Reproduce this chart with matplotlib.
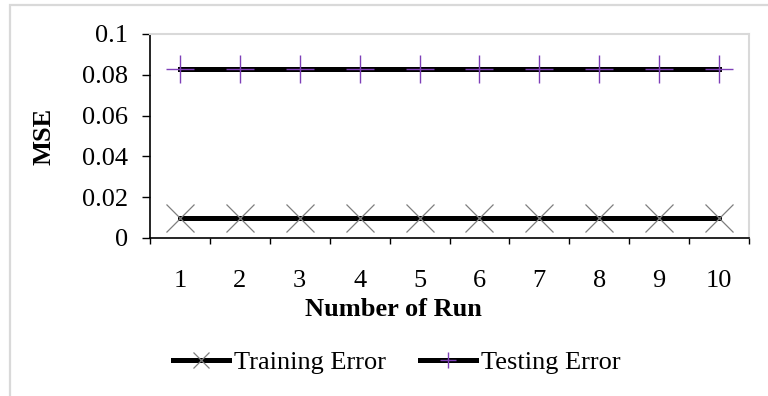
import matplotlib
matplotlib.use("Agg")
import matplotlib.pyplot as plt
from matplotlib.patches import Rectangle
from matplotlib.ticker import FixedLocator, FormatStrFormatter

runs = [1, 2, 3, 4, 5, 6, 7, 8, 9, 10]
training_error = [0.01, 0.01, 0.01, 0.01, 0.01, 0.01, 0.01, 0.01, 0.01, 0.01]
testing_error = [0.083, 0.083, 0.083, 0.083, 0.083, 0.083, 0.083, 0.083, 0.083, 0.083]
y_ticks = [0, 0.02, 0.04, 0.06, 0.08, 0.1]

plt.rcParams['font.family'] = ['Liberation Serif', 'DejaVu Serif']
fs = 19

W, H = 768, 396
fig = plt.figure(figsize=(W / 100, H / 100), dpi=100)
# outer chart border (only left/top visible in the crop)
fig.patches.append(Rectangle((10 / W, -0.1), 1.2, 1 - 5 / H + 0.1, transform=fig.transFigure,
                             fill=False, edgecolor='#D9D9D9', linewidth=1.6))

ax = fig.add_axes([150 / W, 1 - 238 / H, (749 - 150) / W, (238 - 34) / H])

ax.plot(runs, training_error, color='black', linewidth=3.6, marker='x',
        markersize=20, markeredgecolor='#7F7F7F', markeredgewidth=0.9,
        label='Training Error')
ax.plot(runs, testing_error, color='black', linewidth=3.6, marker='+',
        markersize=20, markeredgecolor='#7E3FB8', markeredgewidth=1.0,
        label='Testing Error')

ax.set_xlim(0.5, 10.5)
ax.set_ylim(0, 0.1)
ax.xaxis.set_major_locator(FixedLocator([r + 0.5 for r in [0] + runs]))
ax.xaxis.set_major_formatter(plt.NullFormatter())
ax.xaxis.set_minor_locator(FixedLocator(runs))
ax.set_xticklabels([str(r) for r in runs], minor=True)
ax.tick_params(axis='x', which='major', length=4.5, width=1, direction='out')
ax.tick_params(axis='x', which='minor', length=0, pad=23, labelsize=fs)
ax.set_yticks(y_ticks)
ax.yaxis.set_major_formatter(FormatStrFormatter('%g'))
ax.tick_params(axis='y', length=6, width=1, direction='out', pad=10, labelsize=fs)

for side in ['top', 'right']:
    ax.spines[side].set_color('#D9D9D9')
    ax.spines[side].set_linewidth(1.5)
for side in ['left', 'bottom']:
    ax.spines[side].set_color('black')
    ax.spines[side].set_linewidth(1.2)

fig.text(393 / W, 1 - 309 / H, 'Number of Run', ha='center', va='center',
         fontsize=fs, fontweight='bold')
fig.text(44 / W, 1 - 136 / H, 'MSE', ha='center', va='center', rotation=90,
         fontsize=fs, fontweight='bold')

leg = fig.legend(loc='center', bbox_to_anchor=(397 / W, 1 - 362 / H), ncol=2,
                 frameon=False, fontsize=fs, numpoints=1, handlelength=2.1,
                 handletextpad=0.2, columnspacing=1.3)
for h in leg.legend_handles:
    h.set_markersize(12)

fig.savefig('out.png', dpi=100)
